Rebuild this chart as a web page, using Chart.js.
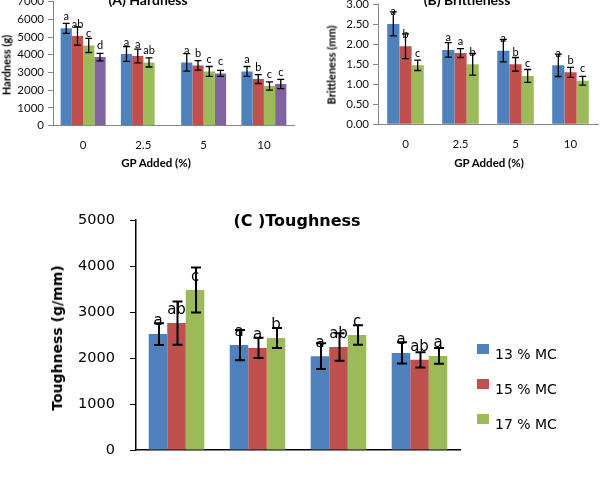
<!DOCTYPE html>
<html>
<head>
<meta charset="utf-8">
<script src="https://cdn.jsdelivr.net/npm/chart.js@4.4.1/dist/chart.umd.min.js"></script>
<style>
  html, body { margin:0; padding:0; background:#fff; }
  body { width:601px; height:491px; overflow:hidden; position:relative; }
  .box { position:absolute; }
  .t { position:absolute; white-space:nowrap; transform:translate(-50%,-50%); color:#000; line-height:1; }
  .r { transform:translate(-50%,-50%) rotate(-90deg); }
  .ab { font-family:Lato, "Open Sans", sans-serif; font-weight:bold; }
  .cc { font-family:"DejaVu Sans", sans-serif; }
  .lg { position:absolute; width:12px; height:10px; }
  .lt { position:absolute; font-family:"DejaVu Sans", sans-serif; font-size:14px; white-space:nowrap; transform:translateY(-50%); line-height:1; }
</style>
</head>
<body>
<div class="box" style="left:0;top:-20px;width:300px;height:200px"><canvas id="ca" width="300" height="200"></canvas></div>
<div class="box" style="left:300px;top:-20px;width:301px;height:200px"><canvas id="cb" width="301" height="200"></canvas></div>
<div class="box" style="left:0;top:190px;width:601px;height:301px"><canvas id="cc" width="601" height="301"></canvas></div>

<div class="t ab" style="left:148px;top:0px;font-size:14px">(A) Hardness</div>
<div class="t ab r" style="left:6px;top:65px;font-size:11px">Hardness (g)</div>
<div class="t ab" style="left:156px;top:163px;font-size:11.5px">GP Added (%)</div>

<div class="t ab" style="left:467px;top:0px;font-size:14px">(B) Brittleness</div>
<div class="t ab r" style="left:331px;top:65px;font-size:11px">Brittleness (mm)</div>
<div class="t ab" style="left:489px;top:163px;font-size:11.5px">GP Added (%)</div>

<div class="t cc" style="left:297px;top:221px;font-size:16px;font-weight:bold">(C )Toughness</div>
<div class="t cc r" style="left:57px;top:338px;font-size:14px;font-weight:bold">Toughness (g/mm)</div>

<div id="legend"></div>

<script>
// ---------- data ----------
const gpLabels = ['0', '2.5', '5', '10'];

// (A) Hardness (g)
const hardS1 = [5490, 4040, 3570, 3060];
const hardS1Err = [280, 415, 490, 280];
const hardS1Let = ['a', 'a', 'a', 'a'];
const hardS2 = [5060, 3930, 3400, 2630];
const hardS2Err = [510, 390, 270, 250];
const hardS2Let = ['ab', 'a', 'b', 'b'];
const hardS3 = [4530, 3570, 3060, 2240];
const hardS3Err = [400, 260, 280, 235];
const hardS3Let = ['c', 'ab', 'c', 'c'];
const hardS4 = [3870, null, 2950, 2350];
const hardS4Err = [215, null, 170, 260];
const hardS4Let = ['d', '', 'c', 'c'];
const hardTicks = [0, 1000, 2000, 3000, 4000, 5000, 6000, 7000];

// (B) Brittleness (mm)
const britS1 = [2.51, 1.86, 1.84, 1.475];
const britS1Err = [0.30, 0.18, 0.28, 0.28];
const britS1Let = ['a', 'a', 'a', 'a'];
const britS2 = [1.95, 1.78, 1.50, 1.30];
const britS2Err = [0.31, 0.11, 0.17, 0.125];
const britS2Let = ['b', 'a', 'b', 'b'];
const britS3 = [1.475, 1.50, 1.21, 1.09];
const britS3Err = [0.13, 0.27, 0.16, 0.11];
const britS3Let = ['c', 'b', 'c', 'c'];
const britTicks = [0, 0.5, 1, 1.5, 2, 2.5, 3];

// (C) Toughness (g/mm)
const seriesNames = ['13 % MC', '15 % MC', '17 % MC'];
const tough13 = [2520, 2280, 2040, 2110];
const tough13Err = [235, 330, 280, 230];
const tough13Let = ['a', 'a', 'a', 'a'];
const tough15 = [2760, 2220, 2240, 1960];
const tough15Err = [470, 220, 300, 165];
const tough15Let = ['ab', 'a', 'ab', 'ab'];
const tough17 = [3480, 2435, 2500, 2045];
const tough17Err = [490, 215, 210, 170];
const tough17Let = ['c', 'b', 'c', 'a'];
const toughTicks = [0, 1000, 2000, 3000, 4000, 5000];

const colors = ['#4F81BD', '#C0504D', '#9BBB59', '#8064A2'];

// ---------- error bars & letters plugin ----------
const errPlugin = {
  id: 'errLetters',
  afterDatasetsDraw(chart, args, o) {
    const ctx = chart.ctx, ys = chart.scales.y;
    ctx.save();
    chart.data.datasets.forEach((ds, di) => {
      const meta = chart.getDatasetMeta(di);
      meta.data.forEach((bar, i) => {
        const v = ds.data[i];
        if (v == null) return;
        const e = ds.errors[i] || 0;
        const x = bar.x + (o.dx || 0);
        const yt = ys.getPixelForValue(v + e), yb = ys.getPixelForValue(v - e);
        ctx.strokeStyle = '#000';
        ctx.lineWidth = o.lw;
        ctx.beginPath();
        ctx.moveTo(x, yt); ctx.lineTo(x, yb);
        ctx.moveTo(x - o.cap, yt); ctx.lineTo(x + o.cap, yt);
        ctx.moveTo(x - o.cap, yb); ctx.lineTo(x + o.cap, yb);
        ctx.stroke();
        const L = ds.letters[i];
        if (L) {
          ctx.fillStyle = '#000';
          ctx.font = o.font;
          ctx.textAlign = 'center';
          ctx.textBaseline = 'middle';
          ctx.fillText(L, bar.x, bar.y - o.off);
        }
      });
    });
    ctx.restore();
  }
};

function mkDs(label, data, err, lets, color) {
  return { label, data, errors: err, letters: lets, backgroundColor: color, borderWidth: 0 };
}

function smallChart(id, datasets, ticks, yMax, catPct, geom, fmt) {
  return new Chart(document.getElementById(id), {
    type: 'bar',
    data: { labels: gpLabels, datasets },
    plugins: [errPlugin],
    options: {
      responsive: false, animation: false,
      devicePixelRatio: 1,
      layout: { padding: { left: 0, right: geom.right, top: geom.top, bottom: 0 } },
      datasets: { bar: { categoryPercentage: catPct, barPercentage: 1 } },
      plugins: {
        legend: { display: false }, tooltip: { enabled: false },
        errLetters: { lw: 1.3, cap: 3.5, off: 12, font: '11px Lato, "Open Sans", sans-serif' }
      },
      scales: {
        x: {
          grid: { display: false, drawTicks: false },
          border: { display: true, color: '#868686', width: 1 },
          ticks: { font: { family: 'Lato, "Open Sans", sans-serif', size: 11.5 }, color: '#111', padding: 13 },
          afterFit: s => { s.height = geom.xh; }
        },
        y: {
          min: 0, max: yMax,
          afterBuildTicks: s => { s.ticks = ticks.map(v => ({ value: v })); },
          ticks: { font: { family: 'Lato, "Open Sans", sans-serif', size: 11.5 }, color: '#111', padding: 4,
                   callback: fmt },
          grid: { drawOnChartArea: false, drawTicks: true, tickLength: 5, color: '#868686' },
          border: { display: true, color: '#868686', width: 1 },
          afterFit: s => { s.width = geom.yw; }
        }
      }
    }
  });
}

smallChart('ca', [
  mkDs('S1', hardS1, hardS1Err, hardS1Let, colors[0]),
  mkDs('S2', hardS2, hardS2Err, hardS2Let, colors[1]),
  mkDs('S3', hardS3, hardS3Err, hardS3Let, colors[2]),
  mkDs('S4', hardS4, hardS4Err, hardS4Let, colors[3])
], hardTicks, 7000, 0.747, { right: 6, top: 21.6, xh: 54.3, yw: 53 }, v => String(v));

smallChart('cb', [
  mkDs('S1', britS1, britS1Err, britS1Let, colors[0]),
  mkDs('S2', britS2, britS2Err, britS2Let, colors[1]),
  mkDs('S3', britS3, britS3Err, britS3Let, colors[2])
], britTicks, 3, 0.665, { right: 3, top: 24.3, xh: 55.7, yw: 78 }, v => Number(v).toFixed(2));

new Chart(document.getElementById('cc'), {
  type: 'bar',
  data: { labels: gpLabels, datasets: [
    mkDs(seriesNames[0], tough13, tough13Err, tough13Let, colors[0]),
    mkDs(seriesNames[1], tough15, tough15Err, tough15Let, colors[1]),
    mkDs(seriesNames[2], tough17, tough17Err, tough17Let, colors[2])
  ] },
  plugins: [errPlugin],
  options: {
    responsive: false, animation: false, devicePixelRatio: 1,
    layout: { padding: { left: 0, right: 141, top: 30, bottom: 0 } },
    datasets: { bar: { categoryPercentage: 0.686, barPercentage: 1 } },
    plugins: {
      legend: { display: false }, tooltip: { enabled: false },
      errLetters: { lw: 2, cap: 5, off: 13, dx: 1, font: '15px "DejaVu Sans", sans-serif' }
    },
    scales: {
      x: {
        grid: { display: false, drawTicks: false },
        border: { display: true, color: '#000', width: 1.5 },
        ticks: { display: false },
        afterFit: s => { s.height = 41; }
      },
      y: {
        min: 0, max: 5000,
        afterBuildTicks: s => { s.ticks = toughTicks.map(v => ({ value: v })); },
        ticks: { font: { family: '"DejaVu Sans", sans-serif', size: 14.5 }, color: '#000', padding: 15,
                 callback: v => String(v) },
        grid: { drawOnChartArea: false, drawTicks: true, tickLength: 6, color: '#000', lineWidth: 1 },
        border: { display: true, color: '#000', width: 1.5 },
        afterFit: s => { s.width = 136; }
      }
    }
  }
});

// legend (HTML)
const lg = document.getElementById('legend');
const lgTop = [344, 379, 414];
seriesNames.forEach((n, i) => {
  const b = document.createElement('div');
  b.className = 'lg';
  b.style.left = '477px'; b.style.top = lgTop[i] + 'px'; b.style.background = colors[i];
  lg.appendChild(b);
  const t = document.createElement('div');
  t.className = 'lt';
  t.style.left = '495px'; t.style.top = (lgTop[i] + 10) + 'px';
  t.textContent = n;
  lg.appendChild(t);
});
</script>
</body>
</html>
